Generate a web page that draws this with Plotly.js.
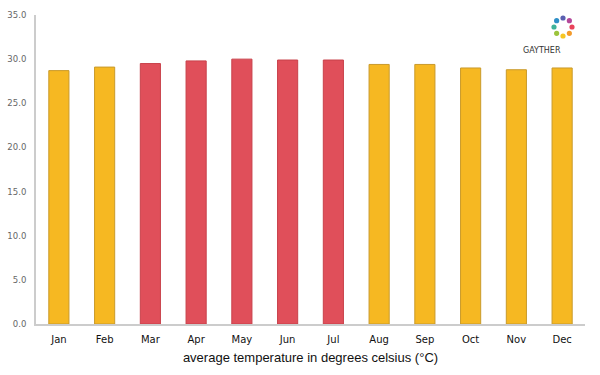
<!DOCTYPE html>
<html>
<head>
<meta charset="utf-8">
<script src="https://cdn.plot.ly/plotly-3.0.1.min.js"></script>
<style>html,body{margin:0;padding:0;background:#fff}#chart{width:600px;height:375px}</style>
</head>
<body>
<div id="chart"></div>
<script>
var months = ["Jan","Feb","Mar","Apr","May","Jun","Jul","Aug","Sep","Oct","Nov","Dec"];
var temps = [28.7, 29.1, 29.5, 29.8, 30.0, 29.9, 29.9, 29.4, 29.4, 29.0, 28.8, 29.0];
var hot = [false, false, true, true, true, true, true, false, false, false, false, false];
var yTicks = [0, 5, 10, 15, 20, 25, 30, 35];

var fill = hot.map(function(h){ return h ? "#E04F5A" : "#F6B822"; });
var edge = hot.map(function(h){ return h ? "#C8404A" : "#C99A2A"; });

var logoColors = ["#E9425A","#F39A2B","#F6C623","#9CC43C","#3FB39A","#2E8FC7","#5A5FB0","#B4479A"];
var shapes = [];
for (var i = 0; i < 8; i++) {
  var a = i * Math.PI / 4;
  var cx = 563 + 9 * Math.cos(a), cy = 27 + 9 * Math.sin(a);
  shapes.push({type:"circle", xref:"paper", yref:"paper", layer:"above",
    x0:(cx-2.6-36)/549, x1:(cx+2.6-36)/549, y0:(324-cy-2.6)/309, y1:(324-cy+2.6)/309,
    fillcolor:logoColors[i], line:{width:0}});
}

var data = [{
  type: "bar",
  x: months,
  y: temps,
  width: 0.44,
  marker: {color: fill, line: {color: edge, width: 1}},
  hoverinfo: "x+y"
}];

var layout = {
  width: 600, height: 375,
  margin: {l: 36, r: 15, t: 15, b: 51},
  paper_bgcolor: "#fff", plot_bgcolor: "#fff",
  showlegend: false,
  xaxis: {
    type: "category",
    showgrid: false, zeroline: false,
    showline: true, linecolor: "#cccccc", linewidth: 1.5,
    ticks: "outside", ticklen: 5, tickcolor: "rgba(0,0,0,0)",
    tickfont: {family: "DejaVu Sans", size: 10, color: "#111"},
    title: {text: "average temperature in degrees celsius (°C)", font: {family: "Liberation Sans, Arial", size: 13, color: "#111"}, standoff: 9}
  },
  yaxis: {
    range: [0, 35],
    tickvals: yTicks,
    tickformat: ".1f",
    showgrid: false, zeroline: false,
    showline: true, linecolor: "#cccccc", linewidth: 2,
    ticks: "outside", ticklen: 6, tickcolor: "rgba(0,0,0,0)",
    tickfont: {family: "DejaVu Sans", size: 8.5, color: "#666"}
  },
  shapes: shapes,
  annotations: [{
    xref: "paper", yref: "paper",
    x: (563-36)/549, y: (324-44)/309,
    text: "GAYTHER", showarrow: false,
    font: {family: "DejaVu Sans", size: 8, color: "#333"}
  }]
};

Plotly.newPlot("chart", data, layout, {displayModeBar: false, staticPlot: true});
</script>
</body>
</html>
